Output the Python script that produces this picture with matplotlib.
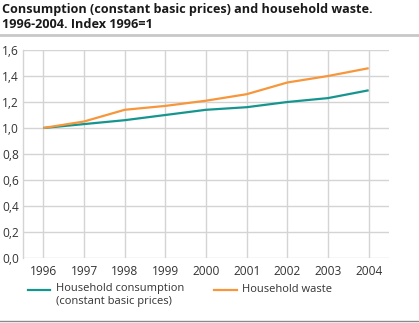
import matplotlib
matplotlib.use('Agg')
import matplotlib.pyplot as plt
from matplotlib.lines import Line2D

plt.rcParams['font.family'] = ['Open Sans', 'DejaVu Sans']

# Data
years = [1996, 1997, 1998, 1999, 2000, 2001, 2002, 2003, 2004]
consumption = [1.00, 1.03, 1.06, 1.10, 1.14, 1.16, 1.20, 1.23, 1.29]
waste = [1.00, 1.05, 1.14, 1.17, 1.21, 1.26, 1.35, 1.40, 1.46]
yticks = [0.0, 0.2, 0.4, 0.6, 0.8, 1.0, 1.2, 1.4, 1.6]
ytick_labels = ['0,0', '0,2', '0,4', '0,6', '0,8', '1,0', '1,2', '1,4', '1,6']

teal = '#16958f'
orange = '#f7963a'
grid_c = '#d4d4d4'
text_c = '#333333'

W, H = 419, 323
fig = plt.figure(figsize=(W / 100, H / 100), dpi=100)

# title
fig.text(2 / W, 1 - 3 / H, 'Consumption (constant basic prices) and household waste.\n1996-2004. Index 1996=1',
         ha='left', va='top', fontsize=9.1, fontweight='bold', color='#1a1a1a', linespacing=1.2)
# rules
fig.add_artist(Line2D([0, 1], [1 - 35 / H, 1 - 35 / H], color='#c8c8c8', lw=2))
fig.add_artist(Line2D([0, 1], [1 - 321 / H, 1 - 321 / H], color='#8a8a8a', lw=1))

ax = fig.add_axes([23 / W, (H - 258) / H, (389 - 23) / W, (258 - 50) / H])
ax.plot(years, consumption, color=teal, lw=1.6, solid_capstyle='butt')
ax.plot(years, waste, color=orange, lw=1.6, solid_capstyle='butt')

ax.set_xlim(1995.5, 2004.5)
ax.set_ylim(0, 1.6)
ax.set_xticks(years)
ax.set_xticklabels([str(y) for y in years])
ax.set_yticks(yticks)
ax.set_yticklabels(ytick_labels)
ax.tick_params(length=0, labelsize=8.6, colors=text_c)
ax.tick_params(axis='x', pad=5)
ax.tick_params(axis='y', pad=3)
ax.grid(True, color=grid_c, lw=1)
ax.set_axisbelow(True)
for s in ['top', 'right', 'bottom']:
    ax.spines[s].set_visible(False)
ax.spines['left'].set_color(grid_c)
ax.spines['left'].set_linewidth(1)

# legend
fig.add_artist(Line2D([28 / W, 50 / W], [1 - 290 / H, 1 - 290 / H], color=teal, lw=1.6))
fig.text(56 / W, 1 - 283 / H, 'Household consumption\n(constant basic prices)', ha='left', va='top',
         fontsize=8, color=text_c, linespacing=1.25)
fig.add_artist(Line2D([214 / W, 237 / W], [1 - 290 / H, 1 - 290 / H], color=orange, lw=1.6))
fig.text(242 / W, 1 - 290 / H, 'Household waste', ha='left', va='center', fontsize=8, color=text_c)

fig.savefig('out.png', dpi=100)
